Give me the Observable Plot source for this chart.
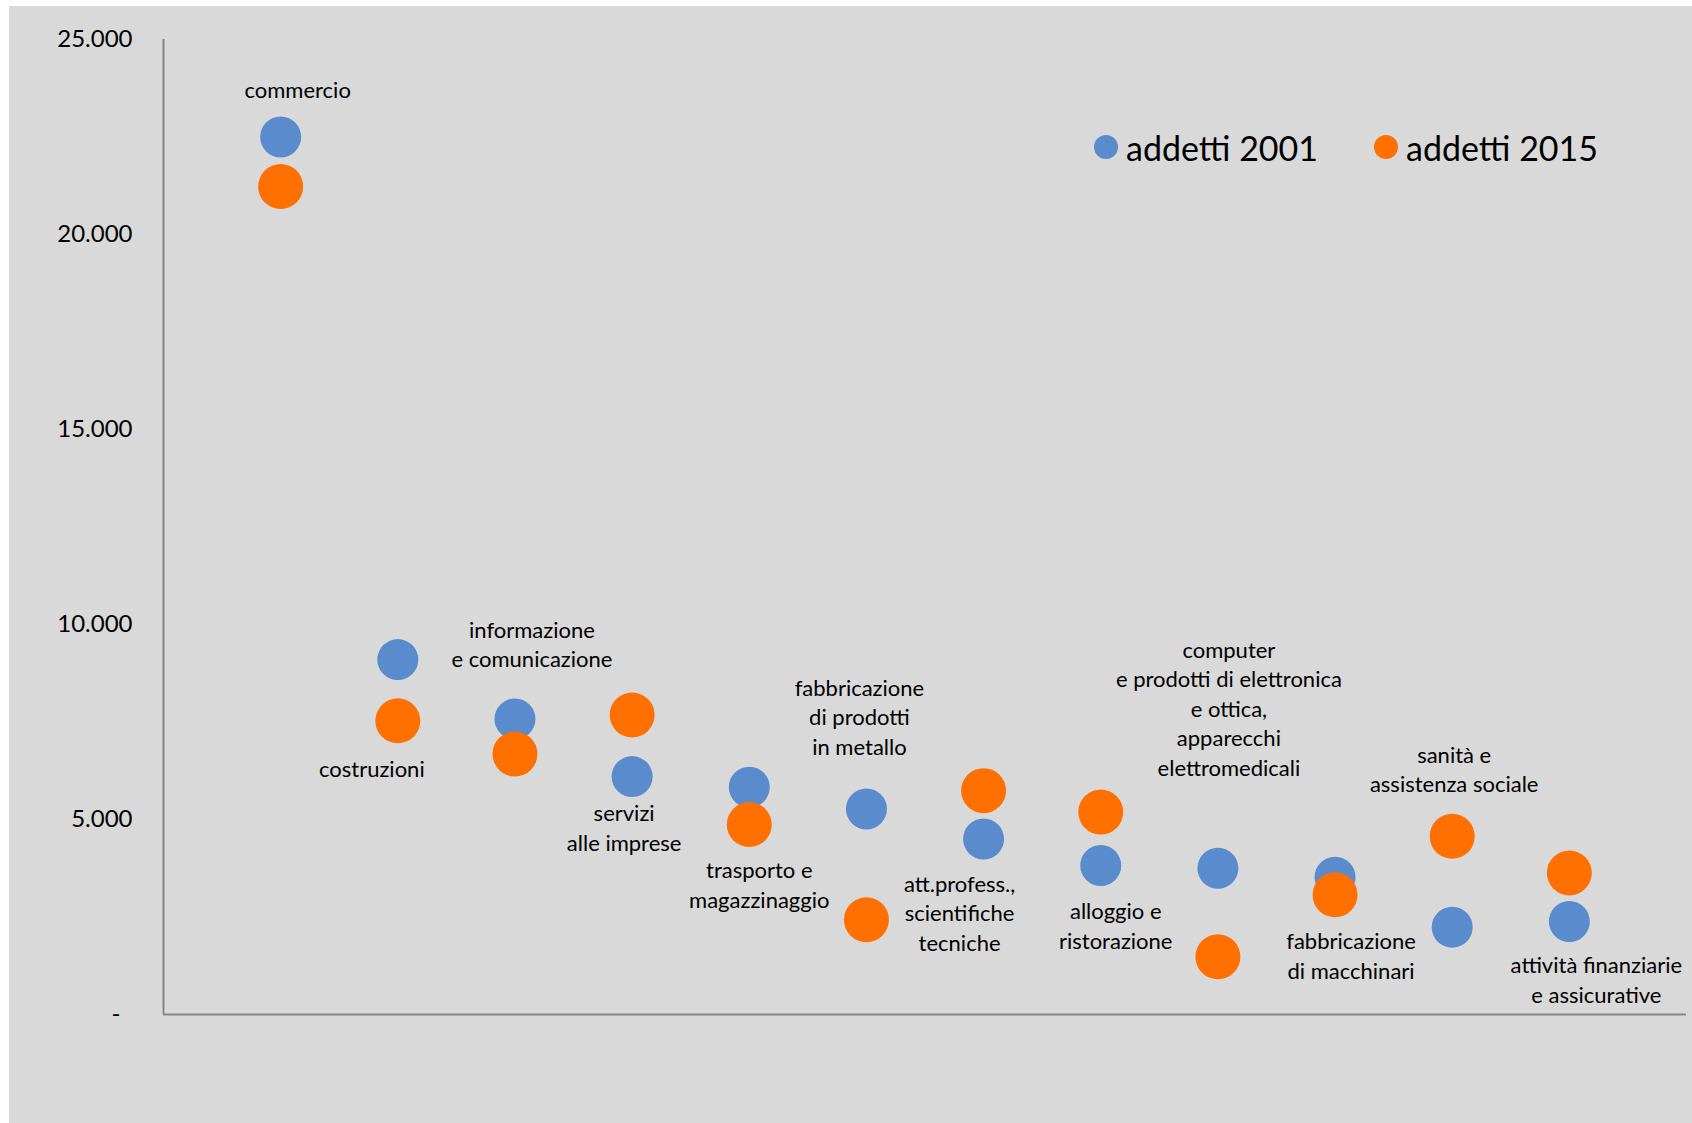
<!DOCTYPE html>
<html>
<head>
<meta charset="utf-8">
<script src="https://cdn.jsdelivr.net/npm/d3@7"></script>
<script src="https://cdn.jsdelivr.net/npm/@observablehq/plot@0.6"></script>
<style>
  html, body { margin: 0; padding: 0; background: #ffffff; }
  #wrap { position: absolute; left: 9px; top: 6px; width: 1683px; height: 1117px; background: #d9d9d9; overflow: hidden; font-family: Lato, "Open Sans", sans-serif; }
  .leg { position: absolute; display: flex; align-items: center; height: 44px; font-size: 34px; color: #000; white-space: nowrap; }
  .leg .sw { width: 24px; height: 24px; border-radius: 50%; margin-right: 8px; }
</style>
</head>
<body>
<div id="wrap"></div>
<script>
// ---- data ----
const categories = [
  "commercio",
  "costruzioni",
  "informazione e comunicazione",
  "servizi alle imprese",
  "trasporto e magazzinaggio",
  "fabbricazione di prodotti in metallo",
  "att.profess., scientifiche tecniche",
  "alloggio e ristorazione",
  "computer e prodotti di elettronica e ottica, apparecchi elettromedicali",
  "fabbricazione di macchinari",
  "sanità e assistenza sociale",
  "attività finanziarie e assicurative"
];
const addetti2001 = [22500, 9100, 7580, 6100, 5830, 5270, 4500, 3820, 3750, 3520, 2240, 2385];
const addetti2015 = [21230, 7530, 6680, 7680, 4870, 2430, 5740, 5190, 1480, 3070, 4570, 3630];
const labelTexts = [
  "commercio",
  "costruzioni",
  "informazione\ne comunicazione",
  "servizi\nalle imprese",
  "trasporto e\nmagazzinaggio",
  "fabbricazione\ndi prodotti\nin metallo",
  "att.profess.,\nscientifiche\ntecniche",
  "alloggio e\nristorazione",
  "computer\ne prodotti di elettronica\ne ottica,\napparecchi\nelettromedicali",
  "fabbricazione\ndi macchinari",
  "sanità e\nassistenza sociale",
  "attività finanziarie\ne assicurative"
];
const yTicks = [0, 5000, 10000, 15000, 20000, 25000];
const seriesNames = ["addetti 2001", "addetti 2015"];

// ---- layout / style (not data) ----
const colors = {"addetti 2001": "#5a8bcd", "addetti 2015": "#ff7000"};
const labelShift = -4;
const labelLayout = [
  {anchor: "2001", dx: 17, dy: -44},
  {anchor: "2015", dx: -26, dy: 51},
  {anchor: "2001", dx: 17, dy: -72},
  {anchor: "2001", dx: -8, dy: 54},
  {anchor: "2015", dx: 10, dy: 63},
  {anchor: "2001", dx: -7, dy: -89},
  {anchor: "2001", dx: -24, dy: 77},
  {anchor: "2001", dx: 15, dy: 63},
  {anchor: "2001", dx: 11, dy: -157},
  {anchor: "2015", dx: 16, dy: 64},
  {anchor: "2015", dx: 2, dy: -64},
  {anchor: "2001", dx: 27, dy: 61}
];

const W = 1683, H = 1117;
const rows = categories.map((c, i) => ({pos: i + 1, category: c, v2001: addetti2001[i], v2015: addetti2015[i]}));
const itFormat = d3.formatLocale({decimal: ",", thousands: ".", grouping: [3], currency: ["€", ""]}).format(",");

const labelMarks = rows.map((r, i) => {
  const L = labelLayout[i];
  return Plot.text([r], {
    x: "pos",
    y: L.anchor === "2001" ? "v2001" : "v2015",
    text: () => labelTexts[i],
    dx: L.dx, dy: L.dy + labelShift,
    fontSize: 22,
    lineHeight: 1.34,
    textAnchor: "middle",
    lineAnchor: "middle",
    fill: "#000"
  });
});

const chart = Plot.plot({
  width: W,
  height: H,
  marginLeft: 154,
  marginRight: 6,
  marginTop: 33,
  marginBottom: 109,
  style: {background: "transparent", fontFamily: "Lato, 'Open Sans', sans-serif", color: "#000", overflow: "visible"},
  x: {domain: [0, 13], axis: null},
  y: {domain: [0, 25000], axis: null},
  marks: [
    Plot.axisY(yTicks.filter(d => d > 0), {tickSize: 0, tickPadding: 31, tickFormat: itFormat, fontSize: 24, fill: "#000"}),
    Plot.axisY([0], {tickSize: 0, tickPadding: 43, tickFormat: () => "-", fontSize: 24, fill: "#000"}),
    Plot.ruleX([0], {stroke: "#878787", strokeWidth: 2}),
    Plot.ruleY([0], {stroke: "#878787", strokeWidth: 2}),
    Plot.dot(rows, {x: "pos", y: "v2001", r: 20.5, fill: colors[seriesNames[0]], stroke: null}),
    Plot.dot(rows, {x: "pos", y: "v2015", r: 22.5, fill: colors[seriesNames[1]], stroke: null}),
    ...labelMarks
  ]
});

const wrap = document.getElementById("wrap");
wrap.appendChild(chart);

// legend (inside plot area, top right)
const legendPos = [{left: 1085, top: 119}, {left: 1365, top: 119}];
seriesNames.forEach((s, i) => {
  const d = document.createElement("div");
  d.className = "leg";
  d.style.left = legendPos[i].left + "px";
  d.style.top = legendPos[i].top + "px";
  const sw = document.createElement("span");
  sw.className = "sw";
  sw.style.background = colors[s];
  const t = document.createElement("span");
  t.textContent = s;
  d.appendChild(sw);
  d.appendChild(t);
  wrap.appendChild(d);
});
</script>
</body>
</html>
